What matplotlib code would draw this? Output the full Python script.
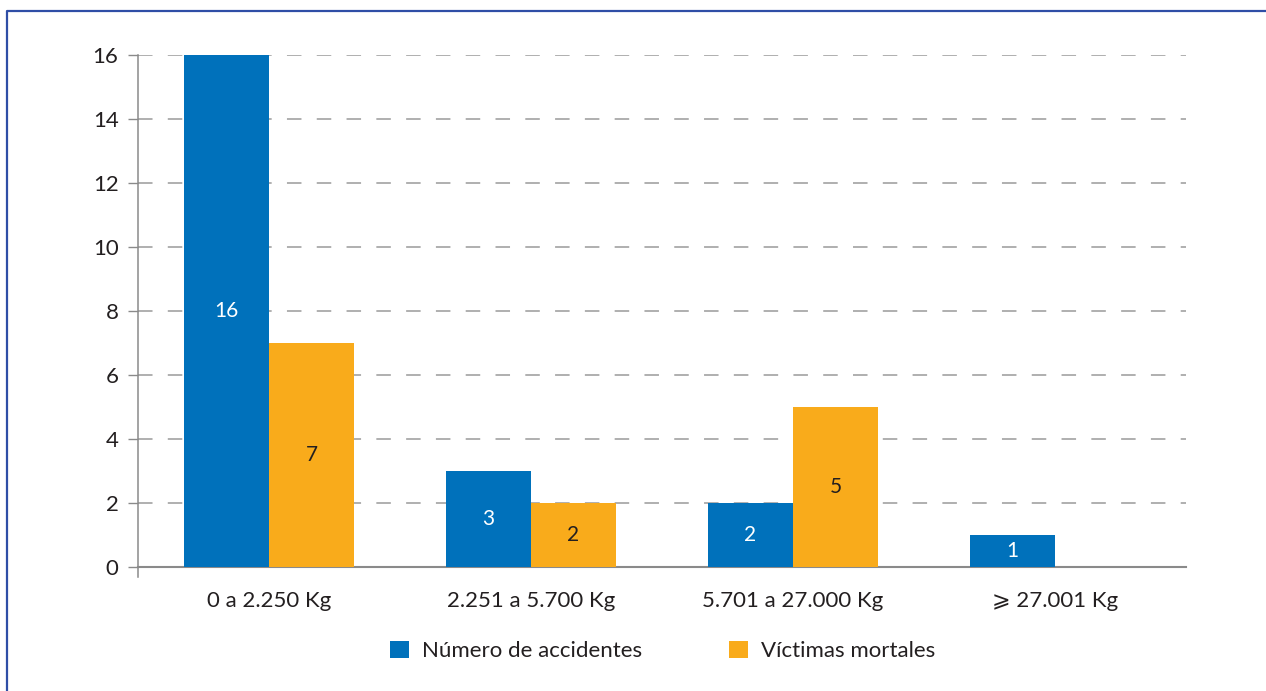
import matplotlib
matplotlib.use("Agg")
import matplotlib.pyplot as plt
from matplotlib.patches import Patch
from matplotlib.lines import Line2D
import numpy as np

categories = ["0 a 2.250 Kg", "2.251 a 5.700 Kg", "5.701 a 27.000 Kg", "\u2a7e 27.001 Kg"]
accidentes = [16, 3, 2, 1]
victimas = [7, 2, 5, 0]
series_names = ["Número de accidentes", "Víctimas mortales"]
yticks = [0, 2, 4, 6, 8, 10, 12, 14, 16]

BLUE = "#0071bb"
ORANGE = "#f9ab1b"
TEXT = "#231f20"
GRID = "#9a9a9a"
FRAME = "#2f4ea6"

plt.rcParams["font.family"] = ["Lato", "DejaVu Sans"]

fig = plt.figure(figsize=(12.66, 6.91), dpi=100)
ax = fig.add_axes([138 / 1266, 1 - 567 / 691, (1186 - 138) / 1266, (567 - 55) / 691])

x = np.arange(len(categories))
w = 0.324
bars_a = ax.bar(x - w / 2, accidentes, w, color=BLUE, zorder=3)
bars_v = ax.bar(x + w / 2, victimas, w, color=ORANGE, zorder=3)

for rect, v in zip(bars_a, accidentes):
    if v > 0:
        ax.text(rect.get_x() + rect.get_width() / 2, v / 2, str(v), ha="center", va="center",
                color="white", fontsize=15, zorder=4)
for rect, v in zip(bars_v, victimas):
    if v > 0:
        ax.text(rect.get_x() + rect.get_width() / 2, v / 2, str(v), ha="center", va="center",
                color=TEXT, fontsize=15, zorder=4)

ax.set_xlim(-0.5, len(categories) - 0.5)
ax.set_ylim(0, 16)
ax.set_yticks(yticks)
ax.set_yticklabels([str(t) for t in yticks], fontsize=16, color=TEXT)
ax.set_xticks(x)
ax.set_xticklabels(categories, fontsize=16, color=TEXT)
ax.tick_params(axis="x", length=0, pad=17)
ax.tick_params(axis="y", length=7, width=1, color="#8a8a8a", pad=7)

for t in yticks[1:]:
    ax.axhline(t, color=GRID, lw=1.1, ls=(0, (9.5, 10)), zorder=1)

for s in ["top", "right"]:
    ax.spines[s].set_visible(False)
ax.spines["left"].set_color("#8a8a8a")
ax.spines["bottom"].set_color("#8a8a8a")
ax.spines["left"].set_linewidth(1.1)
ax.spines["bottom"].set_linewidth(1.5)
# extend the vertical axis line slightly below zero
ax.add_line(Line2D([0, 0], [0, -0.02], transform=ax.transAxes, color="#8a8a8a",
                   lw=1.1, clip_on=False))

handles = [Patch(facecolor=BLUE, edgecolor="none"), Patch(facecolor=ORANGE, edgecolor="none")]
fig.legend(handles, series_names, loc="center", bbox_to_anchor=(663 / 1266, 1 - 651 / 691),
           ncol=2, frameon=False, fontsize=16, handlelength=0.85, handleheight=0.85,
           handletextpad=0.6, columnspacing=3.9, labelcolor=TEXT)

# outer frame (top and left edges)
fig.add_artist(Line2D([7 / 1266, 7 / 1266, 1.0], [0.0, 1 - 11 / 691, 1 - 11 / 691],
                      transform=fig.transFigure, color=FRAME, lw=1.6))

fig.savefig("out.png", dpi=100, facecolor="white")
